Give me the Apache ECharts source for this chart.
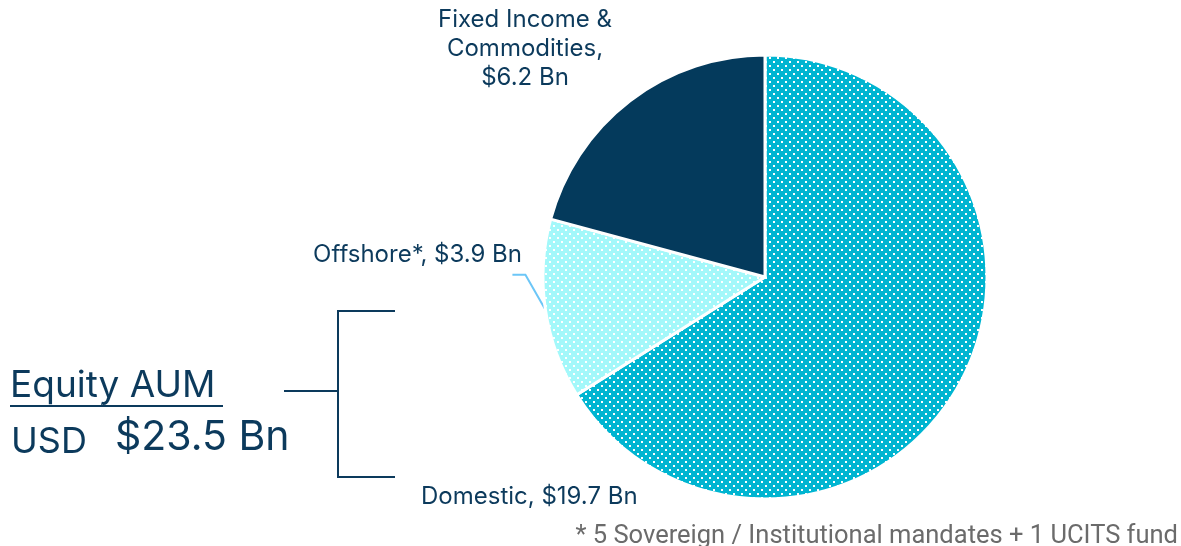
<!DOCTYPE html>
<html>
<head>
<meta charset="utf-8">
<script src="https://cdn.jsdelivr.net/npm/echarts@6/dist/echarts.min.js"></script>
<style>
  html, body { margin: 0; padding: 0; background: #fff; }
  #chart { width: 1181px; height: 546px; }
</style>
</head>
<body>
<div id="chart"></div>
<script>
// pie data
const categories = ['Domestic', 'Offshore*', 'Fixed Income &\nCommodities'];
const values = [19.7, 3.9, 6.2];
const sliceColors = ['#00b5d1', '#a3f8fa', '#043a5c'];
const dotted = [true, true, false];

// side text
const equityTitle = 'Equity AUM';
const equityCurrency = 'USD';
const equityTotal = '$23.5 Bn';
const footnote = '* 5 Sovereign / Institutional mandates + 1 UCITS fund';

const NAVY = '#0c3a5c';

// white dot pattern on a coloured fill
function dotPattern(bg) {
  const c = document.createElement('canvas');
  c.width = 8;
  c.height = 8;
  const ctx = c.getContext('2d');
  ctx.fillStyle = bg;
  ctx.fillRect(0, 0, 8, 8);
  ctx.fillStyle = '#ffffff';
  ctx.fillRect(1, 1, 2, 2);
  ctx.fillRect(5, 5, 2, 2);
  return { image: c, repeat: 'repeat' };
}

const chart = echarts.init(document.getElementById('chart'));

const pieData = categories.map(function (name, i) {
  return {
    name: name,
    value: values[i],
    itemStyle: { color: dotted[i] ? dotPattern(sliceColors[i]) : sliceColors[i] },
    labelLine: {
      show: i === 1,
      lineStyle: { color: '#6cc6f7', width: 2 }
    }
  };
});

chart.setOption({
  backgroundColor: '#ffffff',
  animation: false,
  series: [{
    type: 'pie',
    center: [765, 277],
    radius: 222,
    startAngle: 90,
    clockwise: true,
    data: pieData,
    itemStyle: { borderColor: '#ffffff', borderWidth: 3 },
    label: {
      show: true,
      position: 'outside',
      color: NAVY,
      fontFamily: 'Inter',
      fontSize: 24,
      lineHeight: 29,
      overflow: 'none',
      formatter: function (p) {
        return p.name.indexOf('\n') >= 0
          ? p.name + ',\n$' + p.value + ' Bn'
          : p.name + ', $' + p.value + ' Bn';
      }
    },
    labelLine: { length: 20, length2: 12 },
    emphasis: { disabled: true },
    labelLayout: function (params) {
      if (params.dataIndex === 0) {
        return { x: 421, y: 497, align: 'left', verticalAlign: 'middle' };
      }
      if (params.dataIndex === 2) {
        return { x: 525, y: 49, align: 'center', verticalAlign: 'middle' };
      }
      const p0 = params.labelLinePoints ? params.labelLinePoints[0] : [545, 311];
      return {
        x: 522, y: 255, align: 'right', verticalAlign: 'middle',
        labelLinePoints: [p0, [p0[0] - 20, p0[1] - 35], [p0[0] - 33, p0[1] - 35]]
      };
    }
  }],
  graphic: [
    // equity block
    { type: 'text', left: 10, top: 367, style: { text: equityTitle, fill: NAVY, font: '37px Inter' } },
    { type: 'line', shape: { x1: 10, y1: 406, x2: 223, y2: 406 }, style: { stroke: NAVY, lineWidth: 2 } },
    { type: 'text', left: 11, top: 424, style: { text: equityCurrency, fill: NAVY, font: '36px Inter' } },
    { type: 'text', left: 115, top: 417, style: { text: equityTotal, fill: NAVY, font: '41px Inter' } },
    // bracket
    { type: 'polyline', shape: { points: [[395, 311], [338, 311], [338, 477], [395, 477]] }, style: { stroke: NAVY, lineWidth: 2, fill: null } },
    { type: 'line', shape: { x1: 284, y1: 391, x2: 338, y2: 391 }, style: { stroke: NAVY, lineWidth: 2 } },
    // footnote
    { type: 'text', right: 3, top: 524, style: { text: footnote, fill: '#6b6b6b', font: '25.5px Roboto' } }
  ]
});
</script>
</body>
</html>
